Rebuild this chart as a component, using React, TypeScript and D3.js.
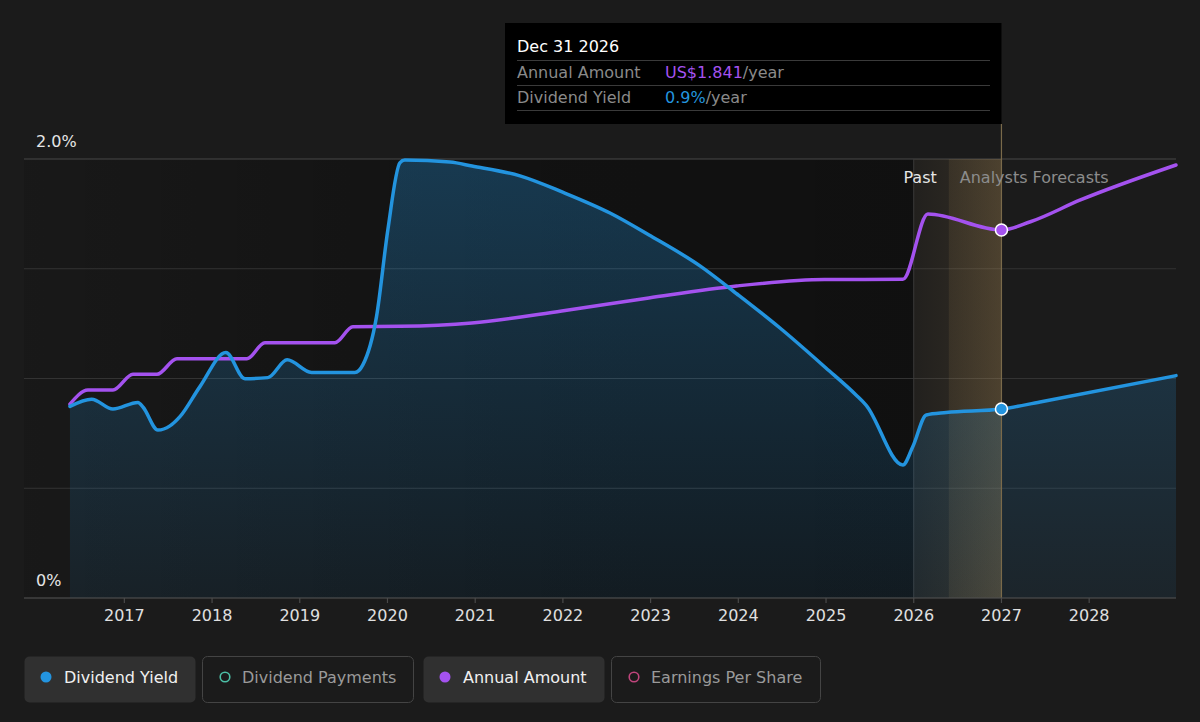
import React from "react";
import * as d3 from "d3";

// ---- Data (decimal years) ----
const yieldDates = [2016.38, 2016.627, 2016.87, 2017.155, 2017.212, 2017.383, 2017.52, 2017.634, 2017.862, 2018.158, 2018.375, 2018.636, 2018.856, 2019.134, 2019.628, 2019.719, 2019.875, 2020.004, 2020.141, 2020.198, 2020.713, 2020.964, 2021.511, 2021.99, 2022.537, 2022.982, 2023.563, 2023.985, 2024.475, 2024.999, 2025.342, 2025.456, 2025.876, 2025.99, 2026.143, 2026.371, 2027.0, 2027.44, 2028.99];
const yieldValues = [0.873, 0.906, 0.861, 0.891, 0.87, 0.765, 0.784, 0.826, 0.963, 1.118, 0.999, 1.004, 1.085, 1.027, 1.027, 1.062, 1.282, 1.677, 1.982, 1.995, 1.986, 1.968, 1.923, 1.85, 1.754, 1.654, 1.513, 1.385, 1.23, 1.048, 0.925, 0.879, 0.606, 0.69, 0.834, 0.845, 0.861, 0.893, 1.013];

const amountDates = [2016.38, 2016.585, 2016.87, 2017.098, 2017.372, 2017.6, 2018.397, 2018.602, 2019.4, 2019.605, 2020.141, 2020.962, 2021.987, 2022.979, 2023.981, 2024.984, 2025.876, 2026.161, 2027.0, 2027.33, 2027.9, 2028.99];
const amountValues = [0.97, 1.04, 1.04, 1.119, 1.119, 1.197, 1.197, 1.277, 1.277, 1.357, 1.359, 1.376, 1.436, 1.501, 1.561, 1.593, 1.594, 1.921, 1.841, 1.882, 1.991, 2.166];

const xTickYears = [2017, 2018, 2019, 2020, 2021, 2022, 2023, 2024, 2025, 2026, 2027, 2028];
const yGridValues = [0, 0.5, 1.0, 1.5, 2.0];
const yLabelValues = [2.0, 0];

const pastEnd = 2026.0;
const forecastShadeStart = 2026.4;
const tooltipDate = 2027.0;
const tooltipTitle = "Dec 31 2026";
const tooltipAmount = "US$1.841";
const tooltipYield = "0.9%";

const legendLabels = ["Dividend Yield", "Dividend Payments", "Annual Amount", "Earnings Per Share"];

const BLUE = "#2394df";
const PURPLE = "#a452ef";
const FONT = "DejaVu Sans, Verdana, sans-serif";
const FS = 16;

export default function App() {
  const W = 1200, H = 722;
  const left = 24, right = 1176, top = 159, bottom = 598;

  const x = d3.scaleLinear().domain([2015.856, 2028.99]).range([left, right]);
  const y = d3.scaleLinear().domain([0, 2.0]).range([bottom, top]);
  const yAmt = d3.scaleLinear().domain([0, 2.196]).range([bottom, top]);

  const yieldData = yieldDates.map((d, i) => ({ t: d, v: yieldValues[i] }));
  const amtData = amountDates.map((d, i) => ({ t: d, v: amountValues[i] }));

  const yieldLine = d3.line<any>().x(d => x(d.t)).y(d => y(d.v)).curve(d3.curveMonotoneX)(yieldData) || "";
  const yieldArea = d3.area<any>().x(d => x(d.t)).y0(bottom).y1(d => y(d.v)).curve(d3.curveMonotoneX)(yieldData) || "";
  const amtLine = d3.line<any>().x(d => x(d.t)).y(d => yAmt(d.v)).curve(d3.curveMonotoneX)(amtData) || "";

  const xPast = x(pastEnd);
  const xShade = x(forecastShadeStart);
  const xTip = x(tooltipDate);
  const tipYield = yieldValues[yieldDates.indexOf(tooltipDate)];
  const tipAmt = amountValues[amountDates.indexOf(tooltipDate)];

  const legend = [
    { x: 24, w: 171, active: true, color: BLUE },
    { x: 202, w: 211, active: false, color: "#4cbfa6" },
    { x: 423, w: 181, active: true, color: PURPLE },
    { x: 611, w: 209, active: false, color: "#c0457c" },
  ];

  return (
    <svg width={W} height={H} style={{ position: "absolute", left: 0, top: 0, display: "block" }} fontFamily={FONT}>
      <defs>
        <linearGradient id="pastGrad" x1="0" x2="1" y1="0" y2="0">
          <stop offset="0" stopColor="#000" stopOpacity={0.1} />
          <stop offset="0.6" stopColor="#000" stopOpacity={0.36} />
          <stop offset="1" stopColor="#000" stopOpacity={0.4} />
        </linearGradient>
        <linearGradient id="areaGrad" x1="0" x2="0" y1="0" y2="1">
          <stop offset="0" stopColor={BLUE} stopOpacity={0.3} />
          <stop offset="1" stopColor={BLUE} stopOpacity={0.08} />
        </linearGradient>
        <linearGradient id="bandGrad" x1="0" x2="1" y1="0" y2="0">
          <stop offset="0" stopColor="#c8a060" stopOpacity={0.04} />
          <stop offset="1" stopColor="#c8a060" stopOpacity={0.14} />
        </linearGradient>
        <linearGradient id="bandGrad2" x1="0" x2="1" y1="0" y2="0">
          <stop offset="0" stopColor="#c8a060" stopOpacity={0.1} />
          <stop offset="1" stopColor="#c8a060" stopOpacity={0.17} />
        </linearGradient>
      </defs>
      <rect x={0} y={0} width={W} height={H} fill="#1b1b1b" />

      {/* past darkening */}
      <rect x={left} y={top} width={xPast - left} height={bottom - top} fill="url(#pastGrad)" />

      {/* grid */}
      {yGridValues.map(v => (
        <line key={v} x1={left} x2={right} y1={y(v)} y2={y(v)} stroke={v === 2.0 ? "#484848" : "#333"} strokeWidth={1} />
      ))}

      {/* forecast band */}
      <rect x={xPast} y={top} width={xTip - xPast} height={bottom - top} fill="url(#bandGrad)" />
      <rect x={xShade} y={top} width={xTip - xShade} height={bottom - top} fill="url(#bandGrad2)" />
      <line x1={xPast} x2={xPast} y1={top} y2={bottom} stroke="#3a3a3a" strokeWidth={1} />

      {/* area + lines */}
      <path d={yieldArea} fill="url(#areaGrad)" />
      <path d={amtLine} fill="none" stroke={PURPLE} strokeWidth={3.5} strokeLinejoin="round" strokeLinecap="round" />
      <path d={yieldLine} fill="none" stroke={BLUE} strokeWidth={3.5} strokeLinejoin="round" strokeLinecap="round" />

      {/* tooltip line */}
      <line x1={xTip} x2={xTip} y1={124} y2={bottom} stroke="#7a6a4a" strokeWidth={1.2} />

      {/* markers */}
      <circle cx={xTip} cy={yAmt(tipAmt)} r={6} fill={PURPLE} stroke="#fff" strokeWidth={1.5} />
      <circle cx={xTip} cy={y(tipYield)} r={6} fill={BLUE} stroke="#fff" strokeWidth={1.5} />

      {/* Past / forecast labels */}
      <text x={xPast + 23} y={183} textAnchor="end" fill="#e6e6e6" fontSize={FS}>Past</text>
      <text x={xPast + 46} y={183} fill="#8c8c8c" fontSize={FS}>Analysts Forecasts</text>

      {/* y labels */}
      {yLabelValues.map(v => (
        <text key={v} x={36} y={y(v) - 12} fill="#e6e6e6" fontSize={FS}>{v === 0 ? "0%" : `${v.toFixed(1)}%`}</text>
      ))}

      {/* x axis */}
      <line x1={left} x2={right} y1={bottom} y2={bottom} stroke="#4a4a4a" strokeWidth={1.2} />
      {xTickYears.map(t => (
        <g key={t}>
          <line x1={x(t)} x2={x(t)} y1={bottom} y2={bottom + 5} stroke="#4a4a4a" strokeWidth={1.2} />
          <text x={x(t)} y={621} textAnchor="middle" fill="#e0e0e0" fontSize={FS}>{t}</text>
        </g>
      ))}

      {/* tooltip */}
      <rect x={505} y={23} width={xTip - 505} height={101} fill="#000" />
      <text x={517} y={52} fill="#fff" fontSize={FS}>{tooltipTitle}</text>
      <line x1={517} x2={990} y1={60.5} y2={60.5} stroke="#3a3a3a" />
      <text x={517} y={78} fill="#8a8a8a" fontSize={FS}>Annual Amount</text>
      <text x={665} y={78} fontSize={FS}>
        <tspan fill={PURPLE}>{tooltipAmount}</tspan>
        <tspan fill="#8a8a8a">/year</tspan>
      </text>
      <line x1={517} x2={990} y1={85.5} y2={85.5} stroke="#3a3a3a" />
      <text x={517} y={103} fill="#8a8a8a" fontSize={FS}>Dividend Yield</text>
      <text x={665} y={103} fontSize={FS}>
        <tspan fill={BLUE}>{tooltipYield}</tspan>
        <tspan fill="#8a8a8a">/year</tspan>
      </text>
      <line x1={517} x2={990} y1={110.5} y2={110.5} stroke="#3a3a3a" />

      {/* legend */}
      {legend.map((l, i) => (
        <g key={legendLabels[i]}>
          <rect x={l.x + 0.5} y={656.5} width={l.w} height={46} rx={5}
            fill={l.active ? "#303030" : "#1b1b1b"} stroke={l.active ? "none" : "#444"} strokeWidth={1} />
          {l.active ? (
            <circle cx={l.x + 22} cy={677} r={5.5} fill={l.color} />
          ) : (
            <circle cx={l.x + 23} cy={677} r={4.8} fill="none" stroke={l.color} strokeWidth={1.6} />
          )}
          <text x={l.x + 40} y={682.5} fill={l.active ? "#f0f0f0" : "#9a9a9a"} fontSize={FS}>{legendLabels[i]}</text>
        </g>
      ))}
    </svg>
  );
}
